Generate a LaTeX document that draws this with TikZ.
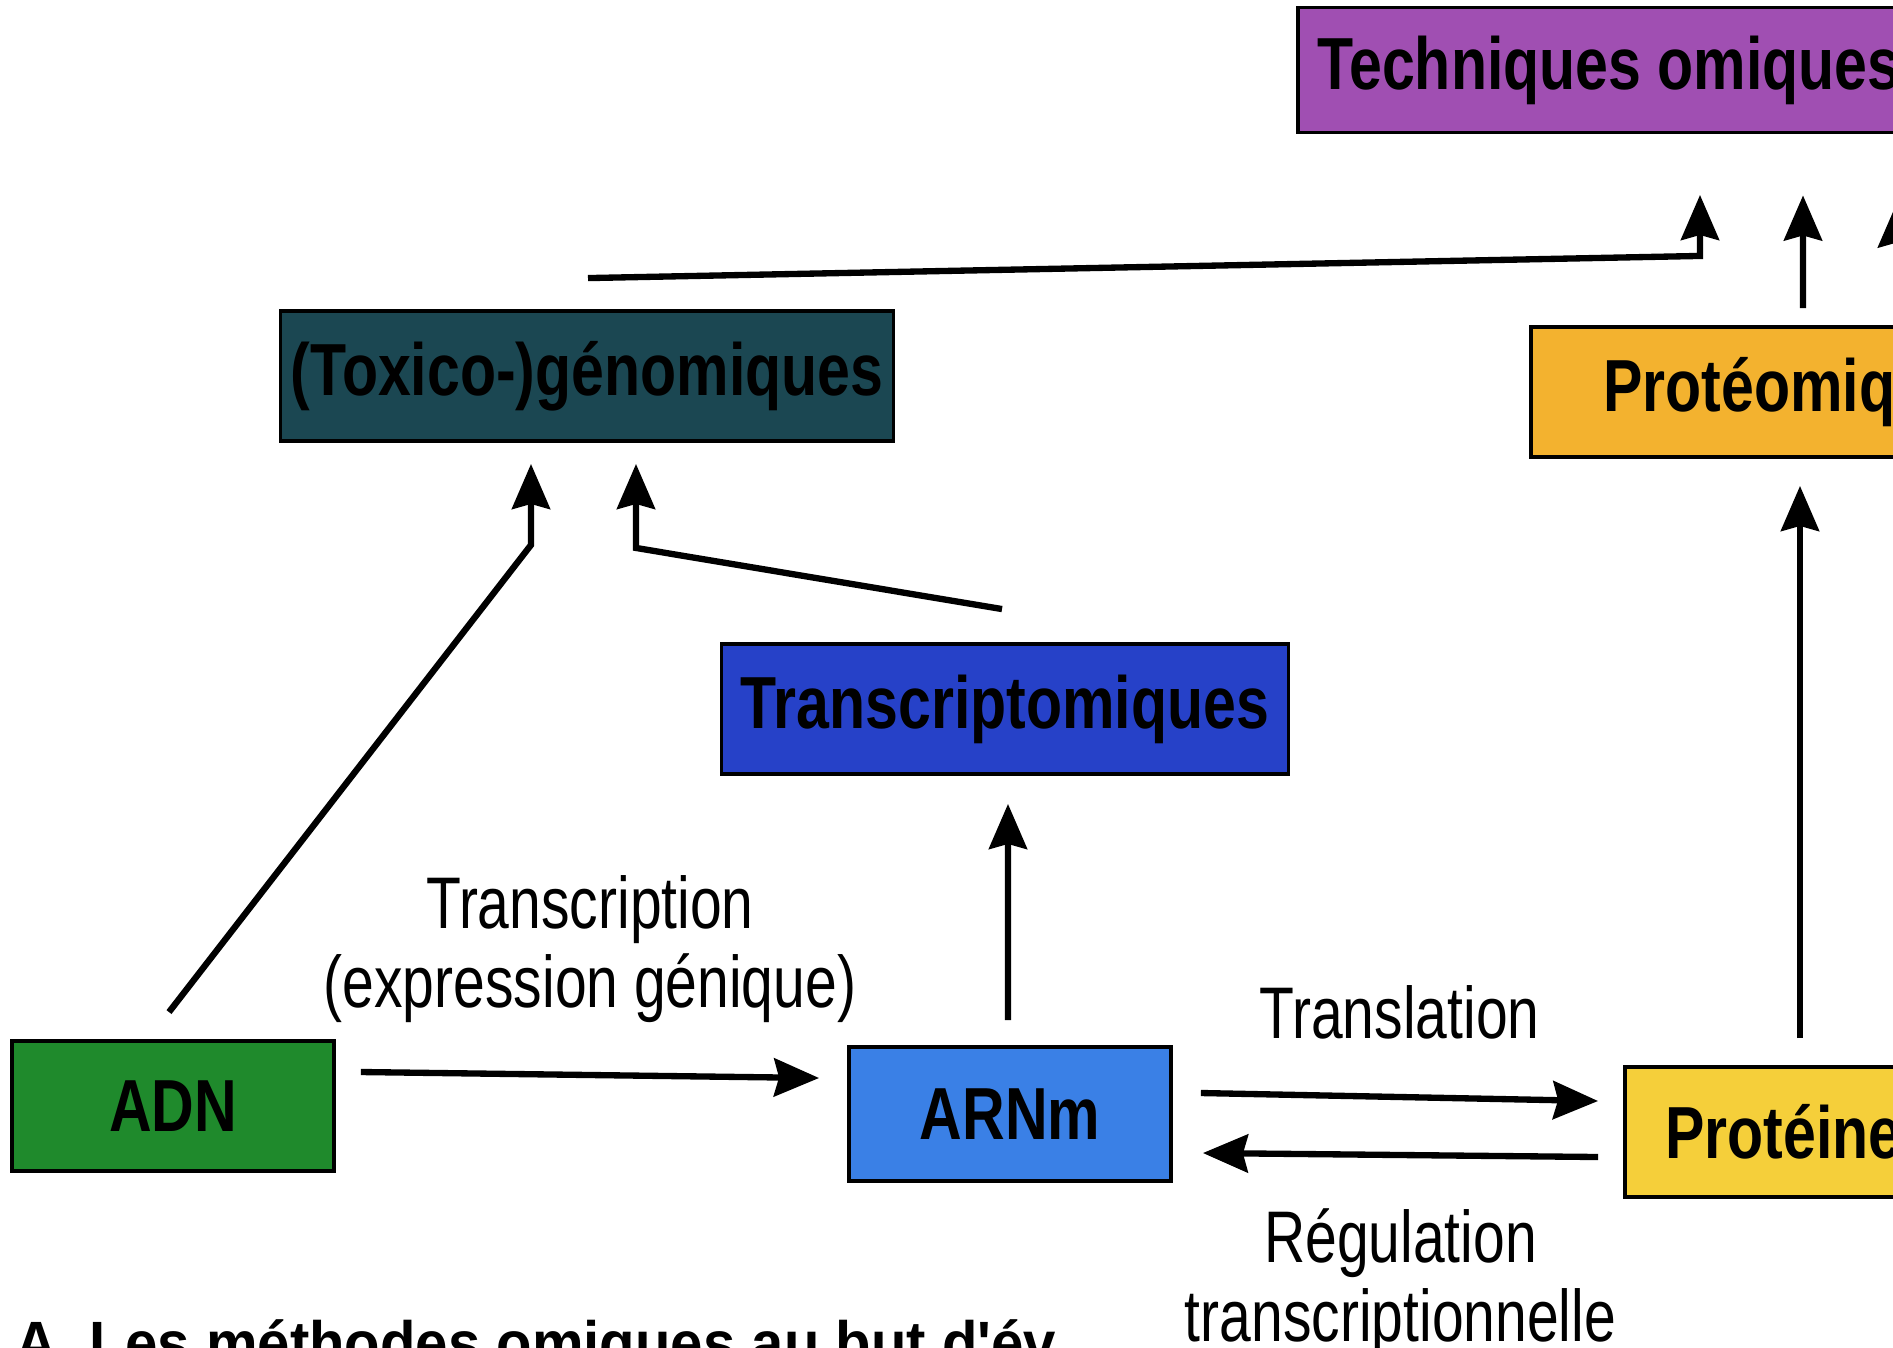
\documentclass[tikz,border=0pt]{standalone}
\usepackage{fontspec}
\newfontfamily\boitefont[FakeStretch=0.8]{Liberation Sans}
\newfontfamily\etiqfont[FakeStretch=0.78]{Liberation Sans}
\newfontfamily\legfont[FakeStretch=0.95]{Liberation Sans}
\usetikzlibrary{arrows.meta, positioning, calc}

\definecolor{cadn}{HTML}{1F8A2C}
\definecolor{carnm}{HTML}{3A80E6}
\definecolor{cprot}{HTML}{F5CF3A}
\definecolor{ctrans}{HTML}{2641C8}
\definecolor{ctox}{HTML}{1B4752}
\definecolor{cprotome}{HTML}{F3B22F}
\definecolor{ctech}{HTML}{A04FB2}

\begin{document}
\begin{tikzpicture}[
        boite/.style={rectangle, draw, line width=1.1pt, minimum height=1.3cm, inner sep=0pt, align=center, font=\boitefont\bfseries\fontsize{21}{25}\selectfont},
        fleche/.style={-{Stealth[length=0.45cm, width=0.38cm, inset=0.05cm]}, line width=1.8pt},
        etiq/.style={inner sep=0pt, align=center, font=\etiqfont\fontsize{20.8}{22.5}\selectfont},
        legende/.style={inner sep=0pt, font=\legfont\bfseries\fontsize{17.4}{20}\selectfont}]

    \useasboundingbox (0,0) rectangle (18.93,-13.47);
    \clip (0,0) rectangle (18.93,-13.47);

    \node[boite, fill=cadn, minimum width=3.22cm] (adn) at (1.73,-11.06) {ADN};
    \node[boite, fill=carnm, minimum width=3.22cm, minimum height=1.34cm] (arnm) at (10.10,-11.14) {ARNm};
    \node[boite, fill=cprot, minimum width=3.5cm] (prot) at (18.00,-11.32) {Protéines};
    \node[boite, fill=ctrans, minimum width=5.67cm] (trans) at (10.05,-7.09) {Transcriptomiques};
    \node[boite, fill=ctox, minimum width=6.13cm] (tox) at (5.87,-3.76) {(Toxico-)génomiques};
    \node[boite, fill=cprotome, minimum width=5.38cm] (protome) at (18.00,-3.92) {Protéomiques};
    \node[boite, fill=ctech, minimum width=6.22cm, minimum height=1.25cm] (tech) at (16.09,-0.70) {Techniques omiques};

    \draw[fleche] ($(adn.east)+(0.25,0.34)$) -- node[etiq, above=0.49cm] {Transcription\\(expression génique)} ($(arnm.west)+(-0.28,0.36)$);
    \draw[fleche] ($(arnm.north)+(-0.02,0.25)$) -- ($(trans.south)+(0.03,-0.28)$);
    \draw[fleche] ($(arnm.east)+(0.28,0.21)$) -- node[etiq, above=0.55cm] {Translation} ($(prot.west)+(-0.25,0.31)$);
    \draw[fleche] ($(prot.west)+(-0.25,-0.25)$) -- node[etiq, below=0.5cm] {Régulation\\transcriptionnelle} ($(arnm.east)+(0.30,-0.39)$);
    \draw[fleche] ($(prot.north)+(0,0.27)$) -- ($(protome.south)+(0,-0.27)$);
    \draw[fleche] ($(protome.north)+(0.03,0.17)$) -- ($(tech.south)+(1.94,-0.61)$);

    % vers les (toxico-)genomiques
    \draw[fleche] ($(adn.north)+(-0.04,0.27)$) -- ($(tox.south)+(-0.56,-1.02)$) -- ($(tox.south)+(-0.56,-0.21)$);
    \draw[fleche] ($(trans.north)+(-0.03,0.33)$) -- ($(tox.south)+(0.49,-1.05)$) -- ($(tox.south)+(0.49,-0.21)$);
    \draw[fleche] ($(tox.north)+(0.01,0.31)$) -- ($(tech.south)+(0.91,-1.215)$) -- ($(tech.south)+(0.91,-0.605)$);

    \coordinate (hors) at (18.97,-3.1);
    \draw[fleche] (hors) -- ($(tech.south)+(2.88,-0.68)$);

    \node[legende, anchor=base west] (leg) at (0.15,-13.64) {A. Les méthodes omiques au but d'év};
\end{tikzpicture}
\end{document}
